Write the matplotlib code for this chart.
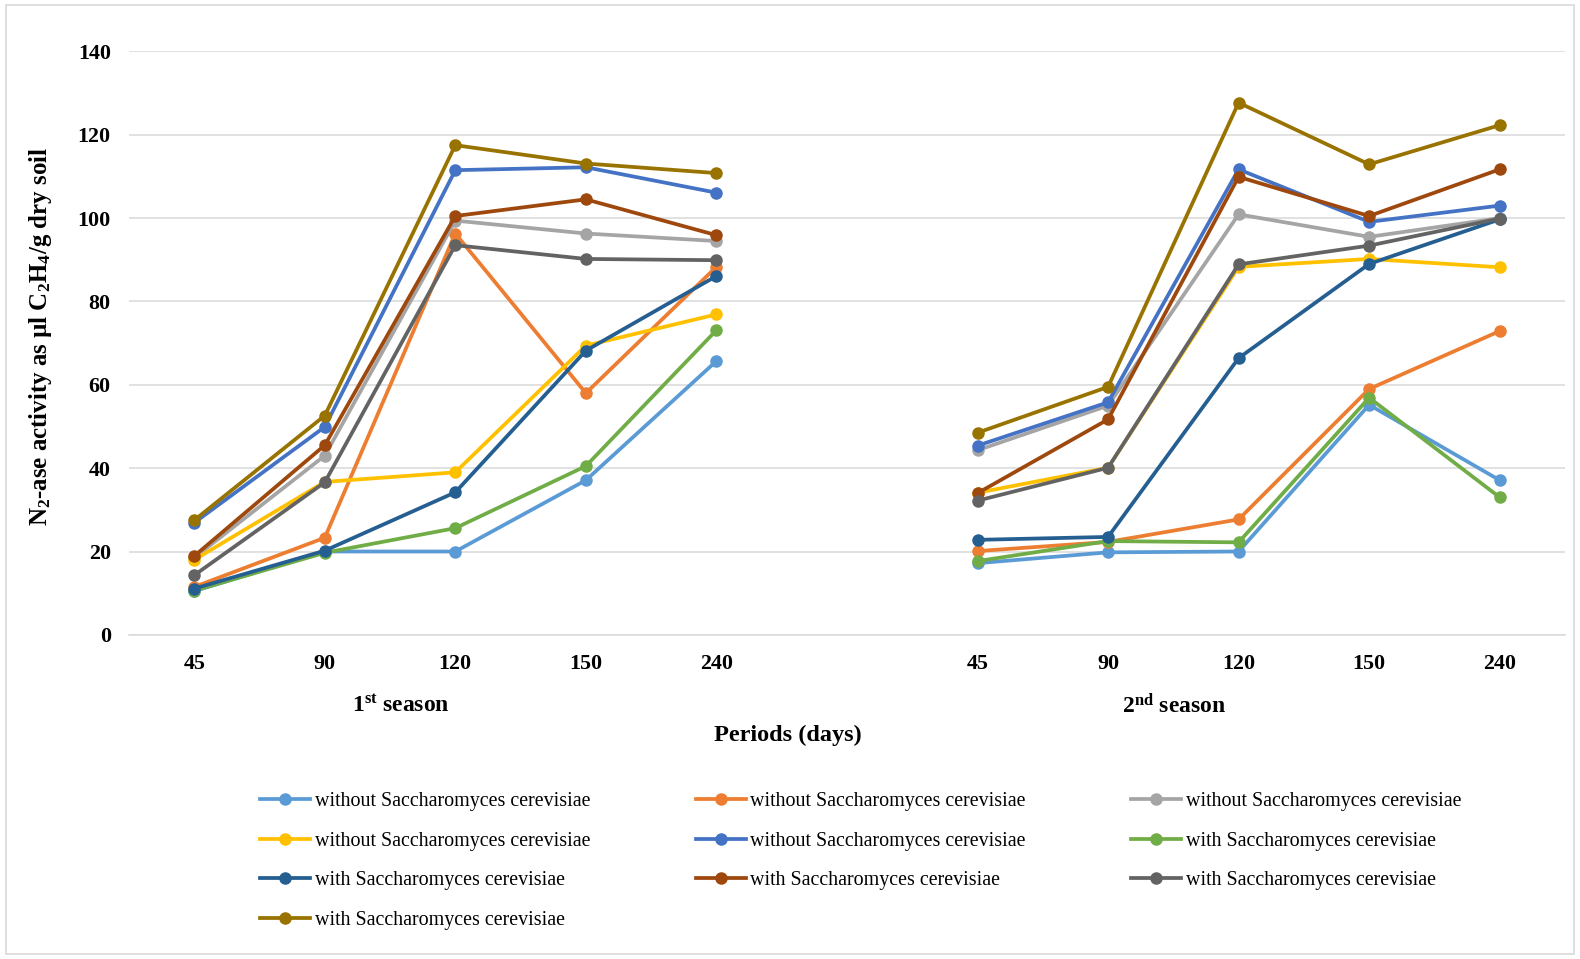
import matplotlib
matplotlib.use("Agg")
import matplotlib.pyplot as plt
from matplotlib.patches import Rectangle

plt.rcParams['font.family'] = ['Liberation Serif', 'DejaVu Serif']
plt.rcParams['mathtext.default'] = 'regular'

# categories: 5 periods per season, one empty slot between the seasons
periods = ['45', '90', '120', '150', '240']
seasons = ['1$^{st}$ season', '2$^{nd}$ season']

labels = ['without Saccharomyces cerevisiae'] * 5 + ['with Saccharomyces cerevisiae'] * 5
colors = ['#5B9BD5', '#ED7D31', '#A5A5A5', '#FFC000', '#4472C4',
          '#70AD47', '#255E91', '#9E480E', '#636363', '#997300']

# values, season 1 then season 2 (45, 90, 120, 150, 240 days)
s1_season1 = [10.5, 20.0, 20.0, 37.1, 65.7]
s1_season2 = [17.2, 19.8, 20.0, 55.2, 37.1]
s2_season1 = [11.5, 23.3, 96.3, 58.0, 88.3]
s2_season2 = [20.1, 22.3, 27.7, 59.0, 72.9]
s3_season1 = [18.5, 43.0, 99.4, 96.3, 94.5]
s3_season2 = [44.3, 55.0, 100.9, 95.5, 100.0]
s4_season1 = [18.0, 36.7, 39.0, 69.4, 76.9]
s4_season2 = [34.1, 40.1, 88.3, 90.2, 88.2]
s5_season1 = [26.9, 49.9, 111.5, 112.2, 106.1]
s5_season2 = [45.4, 55.8, 111.7, 99.1, 103.0]
s6_season1 = [10.6, 19.7, 25.6, 40.5, 73.1]
s6_season2 = [17.7, 22.5, 22.2, 56.9, 33.0]
s7_season1 = [11.1, 20.2, 34.2, 68.2, 86.1]
s7_season2 = [22.8, 23.5, 66.4, 89.0, 99.7]
s8_season1 = [18.9, 45.5, 100.5, 104.5, 95.9]
s8_season2 = [34.0, 51.7, 109.9, 100.5, 111.7]
s9_season1 = [14.3, 36.6, 93.5, 90.2, 89.9]
s9_season2 = [32.2, 40.1, 88.9, 93.4, 99.9]
s10_season1 = [27.5, 52.6, 117.5, 113.1, 110.8]
s10_season2 = [48.5, 59.5, 127.7, 112.9, 122.3]

series = [(s1_season1, s1_season2), (s2_season1, s2_season2), (s3_season1, s3_season2),
          (s4_season1, s4_season2), (s5_season1, s5_season2), (s6_season1, s6_season2),
          (s7_season1, s7_season2), (s8_season1, s8_season2), (s9_season1, s9_season2),
          (s10_season1, s10_season2)]

fig = plt.figure(figsize=(15.8, 9.59), dpi=100)
ax = fig.add_axes([0.0816, 0.338, 0.9089, 0.6084])

x1 = list(range(len(periods)))
x2 = [i + len(periods) + 1 for i in x1]

handles = []
for (v1, v2), c, lab in zip(series, colors, labels):
    h, = ax.plot(x1, v1, color=c, lw=2.7, marker='o', ms=8, label=lab, zorder=3)
    ax.plot(x2, v2, color=c, lw=2.7, marker='o', ms=8, zorder=3)
    handles.append(h)

ax.set_xlim(-0.5, 10.5)
ax.set_ylim(0, 140)
ax.set_yticks(range(0, 141, 20))
ax.set_xticks(x1 + x2)
ax.set_xticklabels(periods + periods)
ax.tick_params(length=0, labelsize=15.8)
ax.tick_params(axis='y', pad=13)
ax.tick_params(axis='x', pad=13.5)
for t in ax.get_xticklabels() + ax.get_yticklabels():
    t.set_fontweight('bold')

ax.grid(axis='y', color='#D9D9D9', lw=1.1, zorder=0)
for side in ['top', 'right', 'left']:
    ax.spines[side].set_visible(False)
ax.spines['bottom'].set_color('#D9D9D9')
ax.spines['bottom'].set_linewidth(1.1)

ax.set_ylabel('N$_2$-ase activity as µl C$_2$H$_4$/g dry soil', fontsize=17.9,
              fontweight='bold', labelpad=17, y=0.512)

# season labels and axis title
fig.text(401 / 1580, 1 - 706 / 959, seasons[0], ha='center', va='center',
         fontsize=17, fontweight='bold')
fig.text(1174 / 1580, 1 - 706 / 959, seasons[1], ha='center', va='center',
         fontsize=17, fontweight='bold')
fig.text(788 / 1580, 1 - 735 / 959, 'Periods (days)', ha='center', va='center',
         fontsize=17.5, fontweight='bold')

# legend filled row by row like the original
order = [0, 3, 6, 9, 1, 4, 7, 2, 5, 8]
fig.legend([handles[i] for i in order], [labels[i] for i in order],
           loc='upper left', bbox_to_anchor=(260 / 1580, 1 - 792 / 959),
           ncol=3, frameon=False, fontsize=14.4, handlelength=2.5,
           handletextpad=0.25, columnspacing=5.25, labelspacing=1.03,
           borderpad=0, borderaxespad=0)

fig.patches.append(Rectangle((0.004, 0.005), 0.992, 0.99, transform=fig.transFigure,
                             fill=False, edgecolor='#D9D9D9', lw=1.2))

fig.savefig('out.png', dpi=100)
